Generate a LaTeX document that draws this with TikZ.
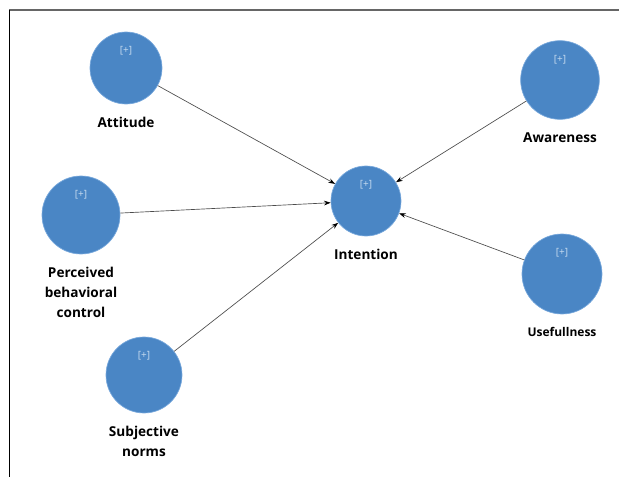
\documentclass[tikz,border=0pt]{standalone}
\usepackage{fontspec}
\setmainfont{Open Sans}
\usetikzlibrary{arrows.meta}
\definecolor{lvblue}{RGB}{74,134,197}
\definecolor{lvedge}{RGB}{120,168,220}
\definecolor{lvplus}{RGB}{200,220,240}
\tikzset{
  construct/.style={circle,fill=lvblue,draw=lvedge,line width=0.5pt,inner sep=0pt},
  plusmark/.style={text=lvplus,font=\fontsize{7.5}{8}\selectfont,anchor=north,label distance=-7.5pt},
  conname/.style={font=\bfseries\fontsize{10.2}{15}\selectfont,align=center,label distance=6pt}
  ,link/.style={draw=black!70,line width=0.5pt,-{Stealth[black,length=5pt,width=3.5pt]}}
}
\begin{document}
\begin{tikzpicture}[x=0.75pt,y=-0.75pt]
        \useasboundingbox (0,0) rectangle (619,477);
        %% frame
        \draw[black!60,line width=1.5pt] (9,10) -- (619,10);
        \draw[line width=0.6pt] (9,10) -- (9,477);
        %% constructs
        \node[construct,minimum size=54pt,label={[plusmark]90:{[+]}},label={[conname]below:Attitude}] (att) at (126,68) {};
        \node[construct,minimum size=58.5pt,label={[plusmark]90:{[+]}},label={[conname]below:Perceived\\behavioral\\control}] (pbc) at (81,215) {};
        \node[construct,minimum size=57pt,label={[plusmark]90:{[+]}},label={[conname]below:Subjective\\norms}] (sn) at (144,375) {};
        \node[construct,minimum size=52.5pt,label={[plusmark]90:{[+]}},label={[conname]below:Intention}] (int) at (366,201) {};
        \node[construct,minimum size=59pt,label={[plusmark]90:{[+]}},label={[conname]below:Awareness}] (awa) at (560,80) {};
        \node[construct,minimum size=60pt,label={[plusmark]90:{[+]}},label={[conname,font=\bfseries\fontsize{9}{12}\selectfont]below:Usefullness}] (use) at (562,274) {};
        %% paths
        \foreach \src in {att,pbc,sn,awa,use} \draw[link] (\src) -- (int);
    \end{tikzpicture}
\end{document}
